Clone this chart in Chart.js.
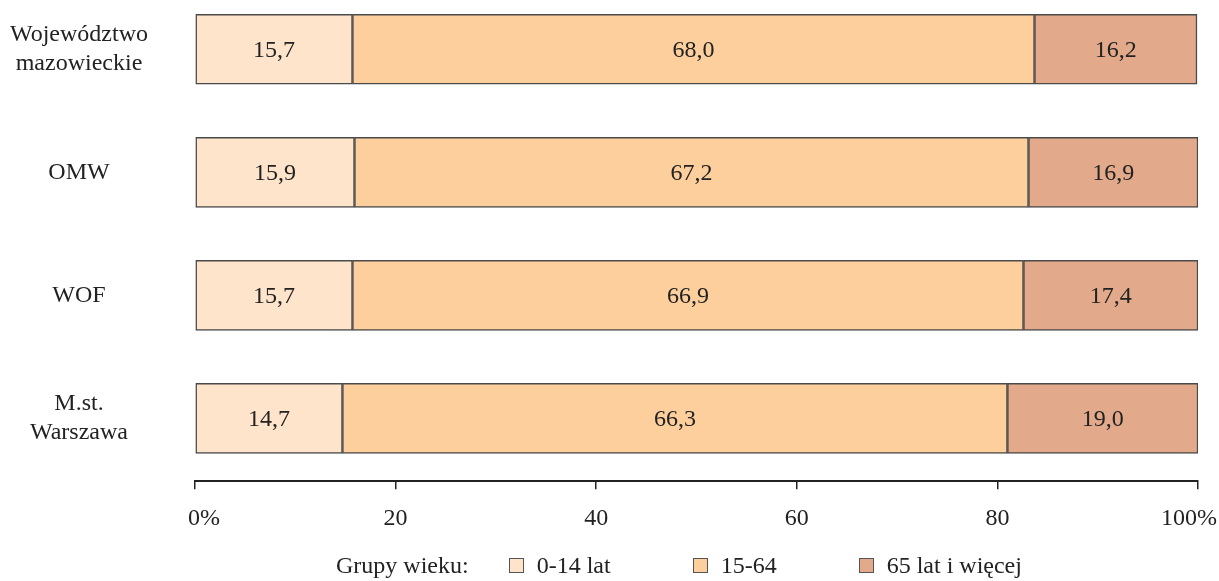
<!DOCTYPE html>
<html lang="pl">
<head>
<meta charset="utf-8">
<script src="https://cdn.jsdelivr.net/npm/chart.js@4/dist/chart.umd.min.js"></script>
<style>
    html, body { margin: 0; padding: 0; background: #fff; }
    #wrap { position: relative; width: 1219px; height: 581px; }
    #legend {
        position: absolute; left: 336px; top: 551px;
        display: flex; align-items: center;
        font: 24px "Liberation Serif", "Times New Roman", serif; color: #222;
        line-height: 28px;
    }
    #legend .title { margin-right: 40px; }
    #legend .item { display: flex; align-items: center; margin-right: 82px; }
    #legend .box { width: 13px; height: 13px; border: 1px solid #555; margin-right: 13px; }
</style>
</head>
<body>
<div id="wrap">
    <canvas id="chart-age" width="1219" height="581"></canvas>
    <div id="legend"><span class="title">Grupy wieku:</span></div>
</div>
<script>
const regions = [['Województwo', 'mazowieckie'], 'OMW', 'WOF', ['M.st.', 'Warszawa']];
const seriesNames = ['0-14 lat', '15-64', '65 lat i więcej'];
const seriesColors = ['#fee4ca', '#fdcf9d', '#e2a98a'];
const young = [15.7, 15.9, 15.7, 14.7];
const working = [68.0, 67.2, 66.9, 66.3];
const senior = [16.2, 16.9, 17.4, 19.0];
const xTicks = [0, 20, 40, 60, 80, 100];

const FONT = '"Liberation Serif", "Times New Roman", serif';

// values written inside each segment
const valueLabels = {
    id: 'valueLabels',
    afterDatasetsDraw(chart) {
        const ctx = chart.ctx;
        ctx.save();
        ctx.font = '24px ' + FONT;
        ctx.fillStyle = '#222';
        ctx.textAlign = 'center';
        ctx.textBaseline = 'middle';
        chart.data.datasets.forEach((ds, di) => {
            chart.getDatasetMeta(di).data.forEach((bar, i) => {
                const { x, y, base } = bar.getProps(['x', 'y', 'base'], true);
                ctx.fillText(ds.data[i].x.toFixed(1).replace('.', ','), (x + base) / 2, y + 1);
            });
        });
        ctx.restore();
    }
};

const series = [young, working, senior];

new Chart(document.getElementById('chart-age'), {
    type: 'bar',
    data: {
        datasets: series.map((vals, s) => ({
            label: seriesNames[s],
            data: vals.map((v, i) => ({ x: v, y: i })),
            backgroundColor: seriesColors[s],
            borderColor: '#4a4a4a',
            borderWidth: 1.5,
            borderSkipped: false,
            barThickness: 70
        }))
    },
    options: {
        indexAxis: 'y',
        responsive: false,
        animation: false,
        layout: { padding: { top: 0, right: 21, bottom: 33, left: 0 } },
        plugins: { legend: { display: false }, tooltip: { enabled: false } },
        scales: {
            x: {
                type: 'linear',
                stacked: true,
                min: 0,
                max: 100,
                afterBuildTicks: s => { s.ticks = xTicks.map(v => ({ value: v })); },
                afterFit: s => { s.paddingLeft = 0; s.paddingRight = 0; },
                ticks: {
                    font: { family: FONT, size: 24 },
                    color: '#222',
                    padding: 15,
                    maxRotation: 0,
                    // end labels sit a little inside, as in the original
                    callback: v => v === 0 ? '   0%' : v === 100 ? '100%   ' : String(v)
                },
                grid: { drawOnChartArea: false, drawTicks: true, tickLength: 8, color: '#222', lineWidth: 1.5 },
                border: { display: true, color: '#222', width: 2 }
            },
            y: {
                type: 'linear',
                stacked: true,
                reverse: true,
                offset: false,
                min: -0.4,
                max: 3.51,
                afterBuildTicks: s => { s.ticks = regions.map((_, i) => ({ value: i })); },
                afterFit: s => { s.width = 195; s.paddingTop = 0; s.paddingBottom = 0; },
                ticks: {
                    font: { family: FONT, size: 24 },
                    color: '#222',
                    padding: 47,
                    crossAlign: 'center',
                    callback: v => regions[v]
                },
                grid: { display: false, drawTicks: false, offset: false },
                border: { display: false }
            }
        }
    },
    plugins: [valueLabels]
});

// legend row under the axis
const legendEl = document.getElementById('legend');
seriesNames.forEach((name, s) => {
    const item = document.createElement('span');
    item.className = 'item';
    item.innerHTML = `<span class="box" style="background:${seriesColors[s]}"></span><span>${name}</span>`;
    legendEl.appendChild(item);
});
</script>
</body>
</html>
